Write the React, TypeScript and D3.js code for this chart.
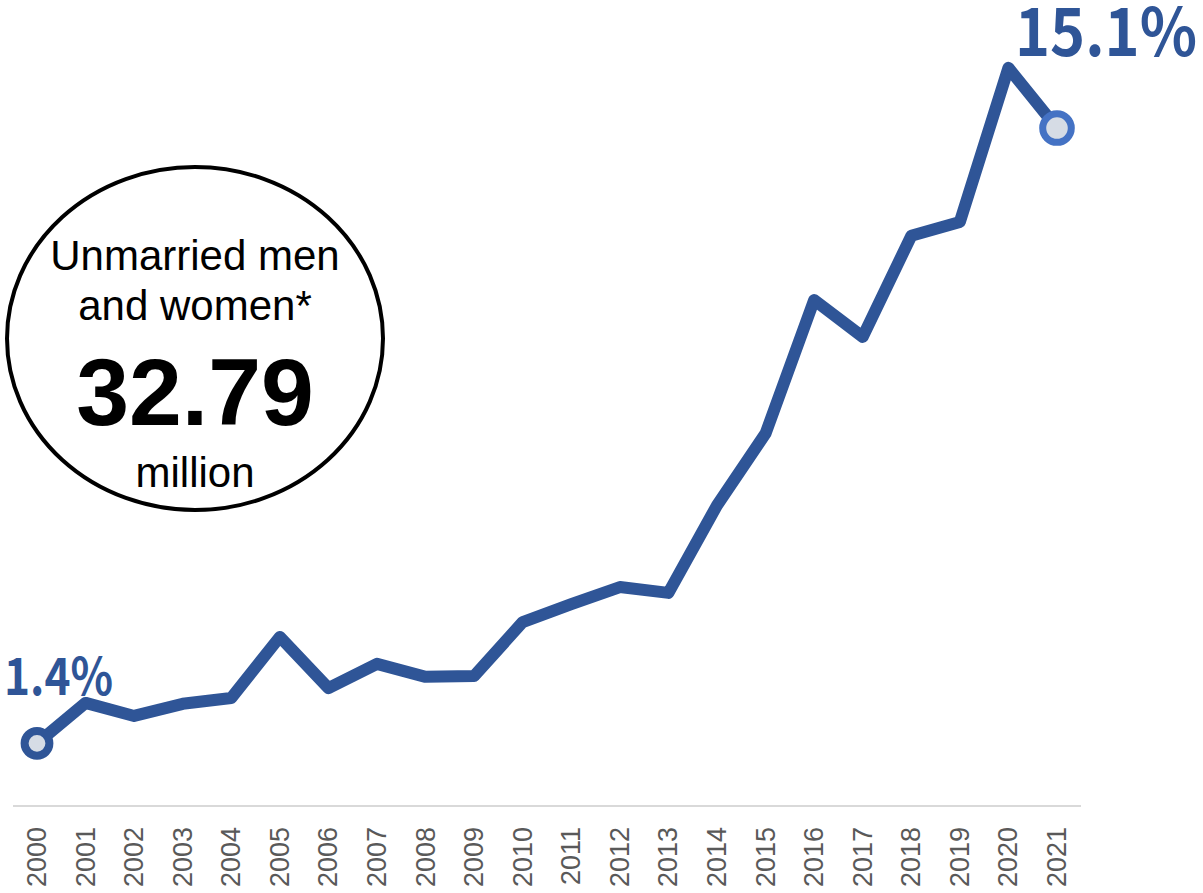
import React from "react";
import * as d3 from "d3";

const years: string[] = [
  "2000","2001","2002","2003","2004","2005","2006","2007","2008","2009","2010",
  "2011","2012","2013","2014","2015","2016","2017","2018","2019","2020","2021",
];
const shares: number[] = [
  1.4, 2.3, 2.01, 2.28, 2.41, 3.77, 2.63, 3.17, 2.88, 2.9, 4.1,
  4.5, 4.88, 4.75, 6.7, 8.3, 11.27, 10.45, 12.7, 13.01, 16.44, 15.1,
];
const firstLabel = "1.4%";
const lastLabel = "15.1%";
const calloutLines: string[] = ["Unmarried men", "and women*"];
const calloutValue = "32.79";
const calloutUnit = "million";

const W = 1203;
const H = 893;

export default function App() {
  const x = d3.scalePoint<string>().domain(years).range([37, 1057]);
  const y = d3.scaleLinear().domain([0, 17]).range([806.2, 806.2 - 17 * 44.91]);
  const pts = years.map((yr, i) => [x(yr) as number, y(shares[i])] as [number, number]);
  const line = d3.line<[number, number]>()(pts) || "";
  const first = pts[0];
  const last = pts[pts.length - 1];
  const blue = "#2f5597";

  return (
    <div style={{ position: "absolute", left: 0, top: 0 }}>
      <svg width={W} height={H} style={{ display: "block" }}>
        <rect width={W} height={H} fill="#ffffff" />
        <line x1={13} x2={1081} y1={806} y2={806} stroke="#d9d9d9" strokeWidth={2} />
        {years.map((yr) => (
          <text
            key={yr}
            transform={`translate(${(x(yr) as number) + 9},827) rotate(-90)`}
            textAnchor="end"
            fontFamily="'Liberation Sans Narrow', 'Liberation Sans', Arial, sans-serif"
            fontSize={27}
            fill="#595959"
          >
            {yr}
          </text>
        ))}
        <path d={line} fill="none" stroke={blue} strokeWidth={12} strokeLinejoin="round" strokeLinecap="round" />
        <circle cx={first[0]} cy={first[1]} r={12.4} fill="#d6dce5" stroke={blue} strokeWidth={8} />
        <circle cx={last[0]} cy={last[1]} r={14.3} fill="#d6dce5" stroke="#4472c4" strokeWidth={7} />
        <text x={4} y={695} fontFamily="'Noto Sans CJK JP', sans-serif" fontWeight={700} fontSize={52} fill={blue}
          textLength={109} lengthAdjust="spacingAndGlyphs">
          {firstLabel}
        </text>
        <text x={1015} y={56} fontFamily="'Noto Sans CJK JP', sans-serif" fontWeight={700} fontSize={66} fill={blue}
          textLength={182} lengthAdjust="spacingAndGlyphs">
          {lastLabel}
        </text>
        <ellipse cx={195} cy={338.5} rx={188} ry={171.5} fill="#ffffff" stroke="#000" strokeWidth={4} />
        <g fontFamily="'Liberation Sans', Arial, sans-serif" textAnchor="middle" fill="#000">
          <text x={195} y={270} fontSize={42}>{calloutLines[0]}</text>
          <text x={195} y={320} fontSize={42}>{calloutLines[1]}</text>
          <text x={195} y={425} fontSize={95} fontWeight={700}>{calloutValue}</text>
          <text x={195} y={487} fontSize={42}>{calloutUnit}</text>
        </g>
      </svg>
    </div>
  );
}
